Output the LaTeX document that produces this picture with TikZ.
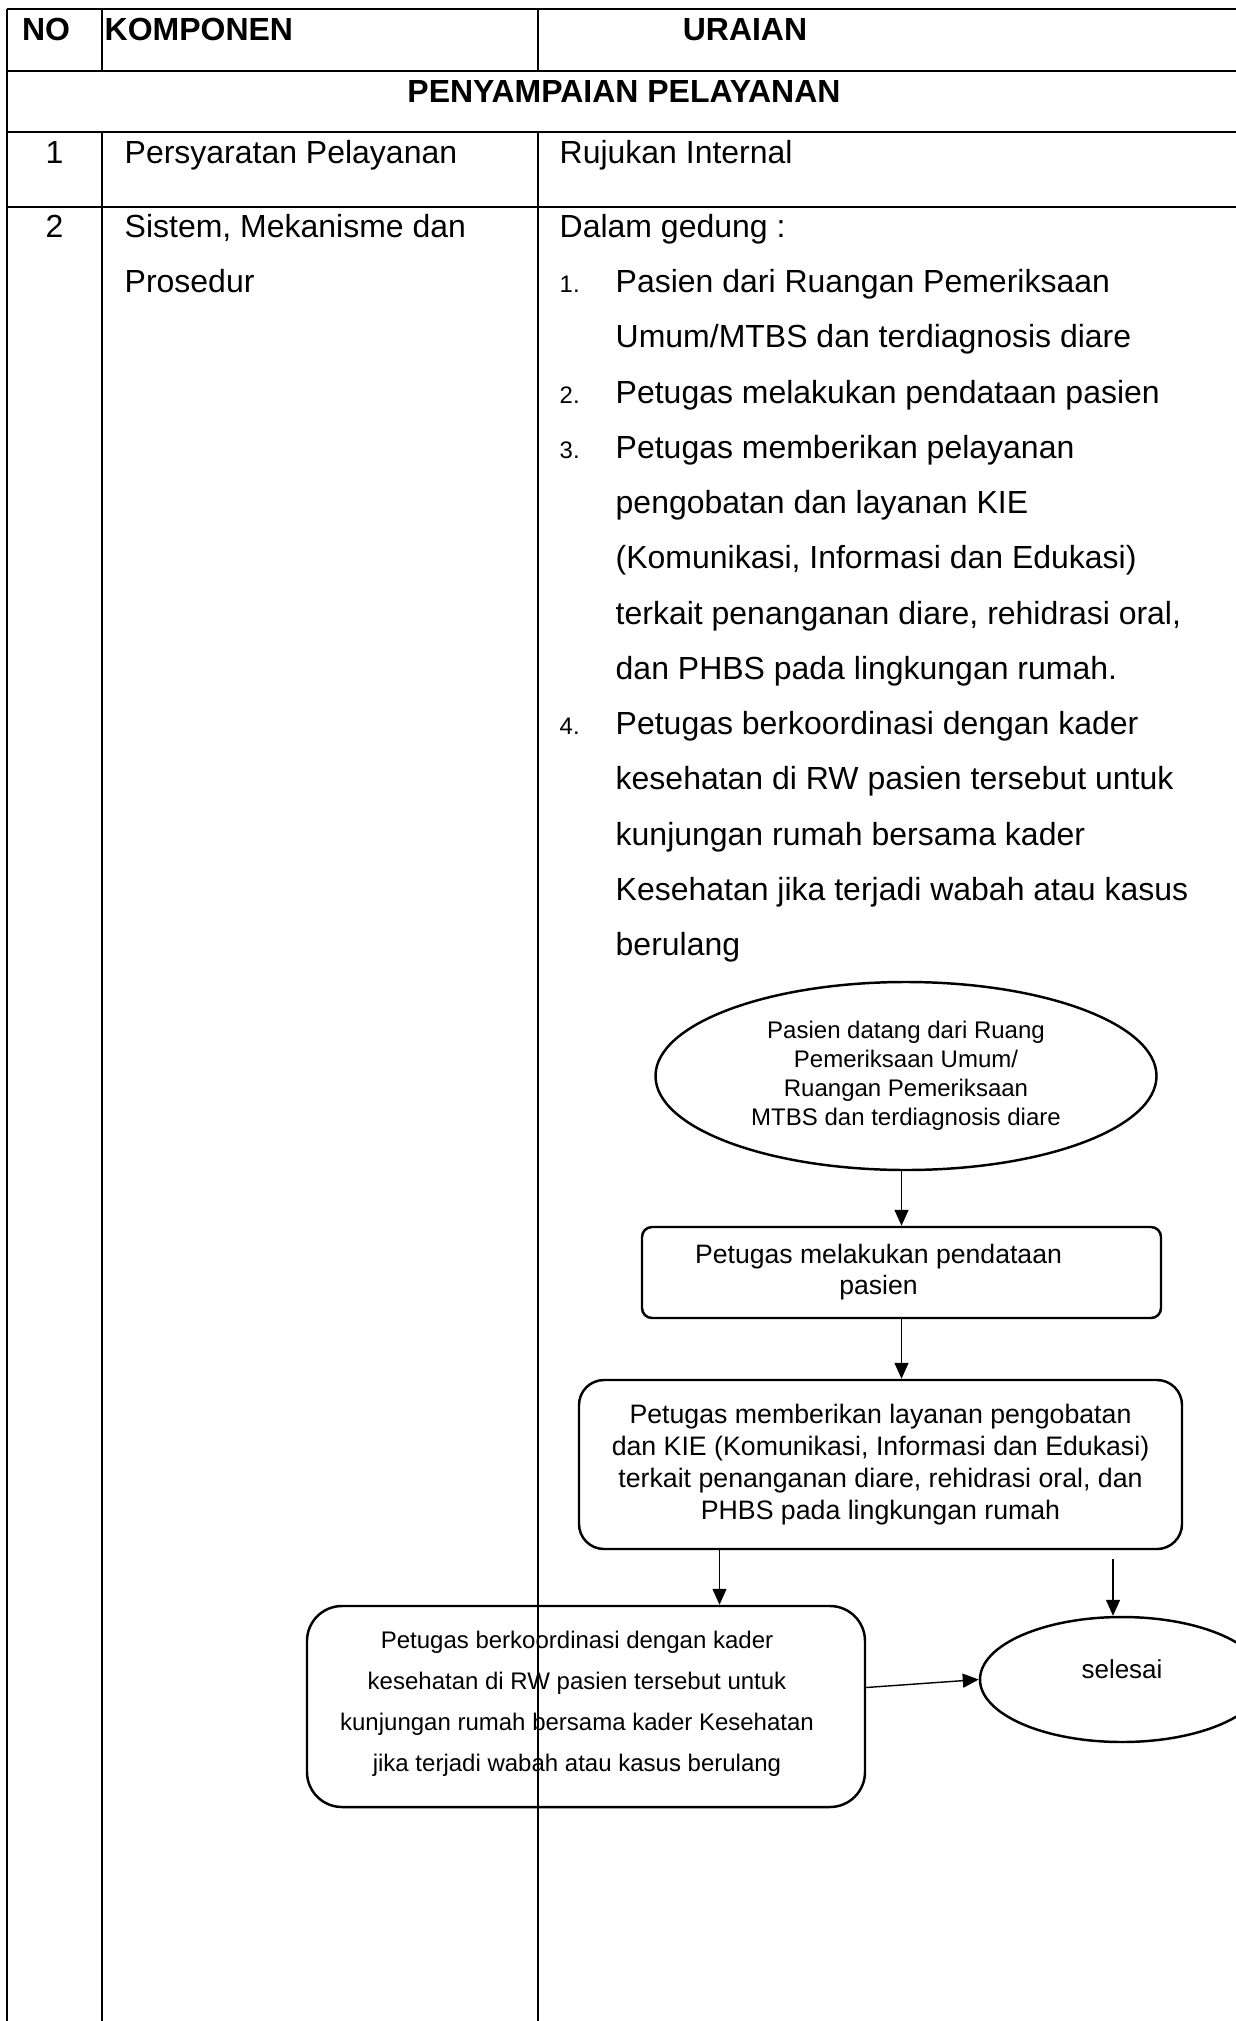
\documentclass[tikz,border=0pt]{standalone}
\usepackage{fontspec}
\setmainfont{Liberation Sans}
\usetikzlibrary{arrows.meta,positioning,shapes.geometric}

\begin{document}
\begin{tikzpicture}[
  cell/.style={anchor=base west, inner sep=0pt, font=\fontsize{9.1}{11}\selectfont},
  head/.style={anchor=base, inner sep=0pt, font=\fontsize{9.1}{11}\selectfont\bfseries},
  num/.style={anchor=base west, inner sep=0pt, font=\fontsize{6.8}{8}\selectfont},
  grid/.style={line width=0.7pt},
  thinrule/.style={line width=0.35pt},
  box/.style={draw, line width=0.7pt, align=center, inner sep=0pt},
  oval/.style={draw, ellipse, line width=0.7pt, align=center, inner sep=0pt},
  arr/.style={-{Triangle[length=0.16cm,width=0.14cm]}, line width=0.4pt}
]
\useasboundingbox (0,0) rectangle (12.36,-20.21);
\clip (0,0) rectangle (12.36,-20.21);

% header rows
\node[head] (no) at (0.46,-0.405) {NO};
\node[head, anchor=base west] (komponen) at (1.04,-0.405) {KOMPONEN};
\node[head] (uraian) at (7.45,-0.405) {URAIAN};
\node[head] (judul) at (6.24,-1.025) {PENYAMPAIAN PELAYANAN};

% row 1
\node[cell, anchor=base] (no1) at (0.545,-1.635) {1};
\node[cell] (syarat) at (1.24,-1.635) {Persyaratan Pelayanan};
\node[cell] (rujukan) at (5.59,-1.635) {Rujukan Internal};

% row 2
\node[cell, anchor=base] (no2) at (0.545,-2.38) {2};
\node[cell] (sistem) at (1.24,-2.38) {Sistem, Mekanisme dan};
\node[cell] (prosedur) at (1.24,-2.925) {Prosedur};
\node[cell] (gedung) at (5.59,-2.38) {Dalam gedung :};
\foreach \t [count=\i from 0] in {
  Pasien dari Ruangan Pemeriksaan,
  Umum/MTBS dan terdiagnosis diare,
  Petugas melakukan pendataan pasien,
  Petugas memberikan pelayanan,
  pengobatan dan layanan KIE,
  {(Komunikasi, Informasi dan Edukasi)},
  {terkait penanganan diare, rehidrasi oral,},
  dan PHBS pada lingkungan rumah.,
  Petugas berkoordinasi dengan kader,
  kesehatan di RW pasien tersebut untuk,
  kunjungan rumah bersama kader,
  Kesehatan jika terjadi wabah atau kasus,
  berulang}
  \node[cell] (langkah\i) at (6.15,{-2.925-0.5525*\i}) {\t};
\foreach \n/\i in {1/0,2/2,3/3,4/8}
  \node[num] (nomor\n) at (5.59,{-2.925-0.5525*\i}) {\n.};

% flowchart
\node[oval, minimum width=5.01cm, minimum height=1.88cm,
  font=\fontsize{6.83}{8.2}\selectfont] (datang) at (9.06,-10.76)
  {Pasien datang dari Ruang\\Pemeriksaan Umum/\\Ruangan Pemeriksaan\\MTBS dan terdiagnosis diare};
\node[box, rounded corners=0.1cm, minimum width=5.19cm, minimum height=0.91cm] (pendataan) at (9.015,-12.725) {};
\node[align=center, inner sep=0pt, font=\fontsize{7.57}{8.8}\selectfont] (pendataanTeks)
  at ([xshift=-0.23cm]pendataan.center) {Petugas melakukan pendataan\\pasien};
\node[box, rounded corners=0.25cm, minimum width=6.03cm, minimum height=1.69cm,
  font=\fontsize{7.6}{9.1}\selectfont] (layanan) at (8.805,-14.645)
  {Petugas memberikan layanan pengobatan\\dan KIE (Komunikasi, Informasi dan Edukasi)\\terkait penanganan diare, rehidrasi oral, dan\\PHBS pada lingkungan rumah};
\node[box, rounded corners=0.35cm, minimum width=5.58cm, minimum height=2.01cm] (koordinasi) at (5.86,-17.065) {};
\node[align=center, inner sep=0pt, font=\fontsize{6.83}{11.66}\selectfont] (koordinasiTeks)
  at ([xshift=-0.09cm, yshift=0.03cm]koordinasi.center)
  {Petugas berkoordinasi dengan kader\\kesehatan di RW pasien tersebut untuk\\kunjungan rumah bersama kader Kesehatan\\jika terjadi wabah atau kasus berulang};
\node[oval, minimum width=2.84cm, minimum height=1.25cm] (selesai) at (11.22,-16.795) {};
\node[inner sep=0pt, font=\fontsize{7.4}{9}\selectfont] (selesaiTeks)
  at ([yshift=0.1cm]selesai.center) {selesai};
\coordinate (selesaiMasuk) at (11.13,-15.59);

\draw[arr] (pendataan.north |- datang.south) -- (pendataan.north);
\draw[arr] (pendataan.south) -- (pendataan.south |- layanan.north);
\draw[arr] ([xshift=-1.61cm]layanan.south) -- ([xshift=-1.61cm]layanan.south |- koordinasi.north);
\draw[arr] (selesaiMasuk) -- (selesaiMasuk |- selesai.north);
\draw[arr] ([yshift=0.19cm]koordinasi.east) -- (selesai.west);

% table rules
\draw[grid] (0.07,-0.09) -- (12.36,-0.09);
\draw[grid] (0.07,-0.09) -- (0.07,-20.21);
\foreach \y in {0.71,1.32,2.07}
  \draw[grid] (0.07,-\y) -- (12.36,-\y);
\draw[grid] (1.02,-0.09) -- (1.02,-0.71);
\draw[grid] (1.02,-1.32) -- (1.02,-20.21);
\draw[thinrule] (5.38,-0.09) -- (5.38,-0.71);
\draw[thinrule] (5.38,-1.32) -- (5.38,-20.21);
\end{tikzpicture}
\end{document}
